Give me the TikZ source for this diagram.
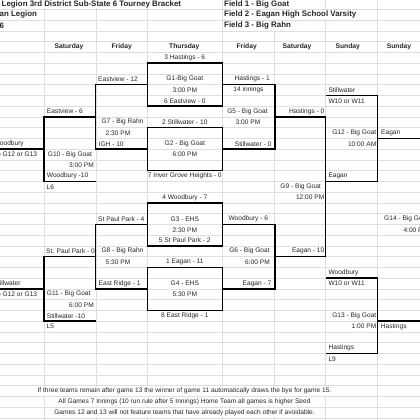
\documentclass[tikz,border=0pt]{standalone}
\usepackage{fontspec}
\setmainfont{Liberation Sans}
\usetikzlibrary{positioning,calc}

\begin{document}
\begin{tikzpicture}[
  x=1pt, y=-10.75pt,
  font=\fontsize{6.6}{7.5}\selectfont,
  every node/.style={inner sep=0pt, text=black!85},
  cl/.style={anchor=west},
  cr/.style={anchor=east},
  hdr/.style={font=\fontsize{6.7}{7.5}\selectfont\bfseries},
  ttl/.style={anchor=west, font=\fontsize{7.9}{9}\selectfont\bfseries, fill=white, minimum height=9pt},
  spill/.style={fill=white, minimum height=9pt, inner xsep=1pt},
  game/.style={draw=black, line width=1.4pt, minimum width=75pt, minimum height=43pt},
  bk/.style={line width=1.4pt},
  gridln/.style={black!13, line width=0.5pt},
]
  \useasboundingbox (0,-0.3721) rectangle (420,38.6977);
  \clip (0,-0.3721) rectangle (420,38.6977);
  \fill[white] (0,-0.3721) rectangle (420,38.6977);
  \foreach \r in {0,...,38} \draw[gridln] (0,\r+0.5) -- (420,\r+0.5);
  \foreach \c in {44,96,147.3,222.3,274.3,325.7,377.7} \draw[gridln] (\c,-0.4) -- (\c,38.7);

  \node[ttl] (title) at (1.5,0) {Legion 3rd District Sub-State 6 Tourney Bracket};
  \node[ttl] (host) at (-0.5,1) {an Legion};
  \node[ttl] (hostb) at (-0.5,2) {6};
  \node[ttl] (field1) at (224,0) {Field 1 - Big Goat};
  \node[ttl] (field2) at (224,1) {Field 2 - Eagan High School Varsity};
  \node[ttl] (field3) at (224,2) {Field 3 - Big Rahn};

  \node[hdr] (daysat) at (69,4) {Saturday};
  \node[hdr] (dayfri) at (121.7,4) {Friday};
  \node[hdr] (daythu) at (184.3,4) {Thursday};
  \node[hdr] (dayfri2) at (246.7,4) {Friday};
  \node[hdr] (daysat2) at (297,4) {Saturday};
  \node[hdr] (daysun) at (347.7,4) {Sunday};
  \node[hdr] (daysun2) at (399,4) {Sunday};

  \node[game] (g1) at (184.8,7.5) {};
  \node[game] (g2) at (184.8,13.5) {};
  \node[game] (g3) at (184.8,20.5) {};
  \node[game] (g4) at (184.8,26.5) {};

  \node (s3) at (184.8,5) {3 Hastings - 6};
  \node (g1a) at (184.8,7) {G1-Big Goat};
  \node (g1b) at (184.8,8) {3:00 PM};
  \node (s6) at (184.8,9) {6 Eastview - 0};
  \node (s2) at (184.8,11) {2 Stillwater - 10};
  \node (g2a) at (184.8,13) {G2 - Big Goat};
  \node (g2b) at (184.8,14) {6:00 PM};
  \node (s7) at (184.8,16) {7 Inver Grove Heights - 0};
  \node (s4) at (184.8,18) {4 Woodbury - 7};
  \node (g3a) at (184.8,20) {G3 - EHS};
  \node (g3b) at (184.8,21) {2:30 PM};
  \node (s5) at (184.8,22) {5 St Paul Park - 2};
  \node (s1) at (184.8,24) {1 Eagan - 11};
  \node (g4a) at (184.8,26) {G4 - EHS};
  \node (g4b) at (184.8,27) {5:30 PM};
  \node (s8) at (184.8,29) {8 East Ridge - 1};

  \draw[bk] (g1.west) -- ++(-51.3,0) |- (g2.west);
  \draw[bk] (g1.east) -- ++(52,0) |- (g2.east);
  \draw[bk] (g3.west) -- ++(-51.3,0) |- (g4.west);
  \draw[bk] (g3.east) -- ++(52,0) |- (g4.east);

  \node[cl] (g7t) at (98,7) {Eastview - 12};
  \node (g7a) at (122.5,11) {G7 - Big Rahn};
  \node (g7b) at (118,12) {2:30 PM};
  \node[cl] (g7l) at (98.5,13) {IGH - 10};
  \node[cl] (g8t) at (98,20) {St Paul Park - 4};
  \node (g8a) at (122.5,23) {G8 - Big Rahn};
  \node (g8b) at (118,24) {5:30 PM};
  \node[cl] (g8l) at (98.5,26) {East Ridge - 1};

  \node[cr] (g5t) at (270,7) {Hastings - 1};
  \node (g5x) at (248.5,8) {14 innings};
  \node (g5a) at (247.5,10) {G5 - Big Goat};
  \node (g5b) at (248,11) {3:00 PM};
  \node[cr] (g5l) at (271.5,13) {Stillwater - 0};
  \node (g6t) at (248.3,20) {Woodbury - 6};
  \node (g6a) at (249.5,23) {G6 - Big Goat};
  \node[cr] (g6b) at (270,24) {6:00 PM};
  \node[cr] (g6l) at (271.5,26) {Eagan - 7};

  \coordinate (w7) at (96,10.5);
  \coordinate (w8) at (96,23.5);
  \coordinate (l6) at (96,16.5);
  \coordinate (l5) at (96,29.5);
  \coordinate (w5) at (274.3,10.5);
  \coordinate (w6) at (274.3,23.5);
  \coordinate (o10) at (44,13.5);
  \coordinate (o11) at (44,26.5);
  \coordinate (edge10) at (0,13.5);
  \coordinate (edge11) at (0,26.5);

  \draw[bk] (w7) -- ++(-52,0) |- (l6);
  \draw[bk] (w8) -- ++(-52,0) |- (l5);
  \draw[bk] (o10) -- (edge10);
  \draw[bk] (o11) -- (edge11);
  \draw[bk] (w5) -- ++(51.4,0) |- (w6);

  \node[cl] (g10t) at (46.7,10) {Eastview - 6};
  \node[cl] (g10a) at (47.7,14) {G10 - Big Goat};
  \node[cr] (g10b) at (94,15) {3:00 PM};
  \node[cl] (g10l) at (46.7,16) {Woodbury -10};
  \node[cl] (lose6) at (46.5,17) {L6};
  \node[cl] (g11t) at (46,23) {St. Paul Park - 0};
  \node[cl] (g11a) at (46.7,27) {G11 - Big Goat};
  \node[cr] (g11b) at (94,28) {6:00 PM};
  \node[cl] (g11l) at (46.7,29) {Stillwater -10};
  \node[cl] (lose5) at (46.5,30) {L5};

  \node[cr] (w10) at (24,13) {Woodbury};
  \node[cr] (to10) at (37.3,14) {o G12 or G13};
  \node[cr] (w11) at (20.7,26) {Stillwater};
  \node[cr] (to11) at (37.3,27) {o G12 or G13};

  \node[cr] (g9t) at (324.5,10) {Hastings - 0};
  \node[cr] (g9a) at (321,17) {G9 - Big Goat};
  \node[cr] (g9b) at (324.5,18) {12:00 PM};
  \node[cr] (g9l) at (324.5,23) {Eagan - 10};

  \coordinate (s12) at (325.7,8.5);
  \coordinate (e12) at (325.7,16.5);
  \coordinate (o12) at (377.7,12.5);
  \coordinate (edge12) at (420,12.5);
  \coordinate (s13) at (325.7,25.5);
  \coordinate (e13) at (325.7,32.5);
  \coordinate (o13) at (377.7,29.5);
  \coordinate (edge13) at (420,29.5);

  \draw[bk] (s12) -- ++(52,0) |- (e12);
  \draw[bk] (o12) -- (edge12);
  \draw[bk] (s13) -- ++(52,0) |- (e13);
  \draw[bk] (o13) -- (edge13);

  \node[cl] (g12t) at (328.3,8) {Stillwater};
  \node[cl] (g12u) at (328.3,9) {W10 or W11};
  \node[cr] (g12a) at (376.5,12) {G12 - Big Goat};
  \node[cr] (g12b) at (376.5,13) {10:00 AM};
  \node[cl] (g12l) at (328.3,16) {Eagan};
  \node[cl] (g13t) at (328.3,25) {Woodbury};
  \node[cl] (g13u) at (328.3,26) {W10 or W11};
  \node[cr] (g13a) at (376.5,29) {G13 - Big Goat};
  \node[cr] (g13b) at (376.5,30) {1:00 PM};
  \node[cl] (g13l) at (328.3,32) {Hastings};
  \node[cl] (lose9) at (328.3,33) {L9};

  \node[cl] (w12) at (381,12) {Eagan};
  \node[cl] (g14a) at (384,20) {G14 - Big Goat};
  \node[cl] (g14b) at (403.3,21) {4:00 PM};
  \node[cl] (w13) at (380.7,30) {Hastings};

  \node[spill] (note1) at (184.5,36) {If three teams remain after game 13 the winner of game 11 automatically draws the bye for game 15.};
  \node[spill] (note2) at (184.5,37) {All Games 7 Innings (10 run rule after 5 Innings) Home Team all games is higher Seed};
  \node[spill] (note3) at (184.5,38) {Games 12 and 13 will not feature teams that have already played each other if avoidable.};
\end{tikzpicture}
\end{document}
